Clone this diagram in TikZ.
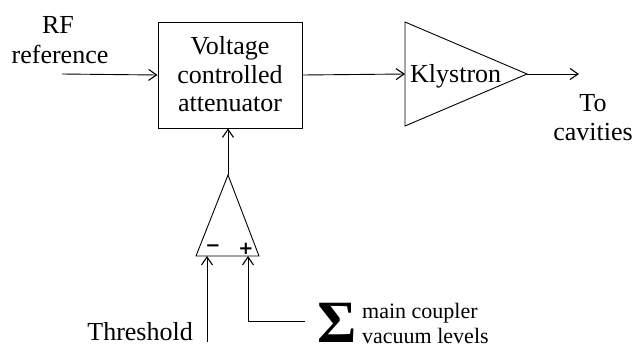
\documentclass[tikz,border=0pt]{standalone}
\usepackage{fontspec}
\setmainfont{Liberation Serif}
\newfontfamily\signfont{DejaVu Sans}
\usetikzlibrary{arrows.meta}
\begin{document}
\begin{tikzpicture}[x=1pt,y=-1pt,
  wire/.style={line width=0.9pt},
  arr/.style={wire,-{Straight Barb[length=8pt,width=11pt,line width=1.1pt]}},
  lbl/.style={inner sep=0pt,font=\rmfamily\fontsize{26}{29}\selectfont},
  small/.style={inner sep=0pt,font=\rmfamily\fontsize{22}{25}\selectfont},
  sign/.style={inner sep=0pt,font=\signfont\bfseries\fontsize{18}{18}\selectfont}]
\useasboundingbox (0,0) rectangle (637,349);
% voltage controlled attenuator
\node[draw,wire,minimum width=144pt,minimum height=106pt,inner sep=0pt] (vca) at (230,75) {};
\node[lbl,anchor=base] (t1) at (230,54) {Voltage};
\node[lbl,anchor=base] (t2) at (230,83) {controlled};
\node[lbl,anchor=base] (t3) at (230,111) {attenuator};
% RF input
\coordinate (rfin) at (62,74);
\node[lbl,anchor=base] (rf1) at (58,33) {RF};
\node[lbl,anchor=base] (rf2) at (60,63) {reference};
\draw[arr] (rfin) -- (vca.west);
% klystron
\coordinate (kin) at (405,74);
\coordinate (kout) at (527,74);
\draw[wire,line join=miter] (405,22) -- (kout) -- (405,126) -- cycle;
\node[lbl,anchor=base west] (kly) at (410,82) {Klystron};
\draw[arr] (vca.east) -- (kin);
\coordinate (cav) at (579,74);
\draw[arr] (kout) -- (cav);
\node[lbl,anchor=base] (to1) at (593,111) {To};
\node[lbl,anchor=base] (to2) at (593,140) {cavities};
% comparator
\coordinate (opout) at (228,175);
\coordinate (opm) at (207,256);
\coordinate (opp) at (248,256);
\draw[wire,line join=miter] (opout) -- (259,256) -- (196,256) -- cycle;
\node[sign] (minus) at (213,248) {−};
\node[sign] (plus) at (246,249) {+};
\draw[arr] (opout) -- (opout |- vca.south);
% threshold
\coordinate (thr) at (207,342);
\node[lbl,anchor=base east] (thl) at (193,340) {Threshold};
\draw[arr] (thr) -- (opm);
% vacuum sum
\coordinate (sumin) at (305,321);
\draw[arr] (sumin) -| (opp);
\node[inner sep=2pt,anchor=center,font=\rmfamily\bfseries\fontsize{60}{60}\selectfont] (sig) at (337,323) {Σ};
\node[small,anchor=base west] (m1) at (362,318) {main coupler};
\node[small,anchor=base west] (m2) at (362,343) {vacuum levels};
\end{tikzpicture}
\end{document}
